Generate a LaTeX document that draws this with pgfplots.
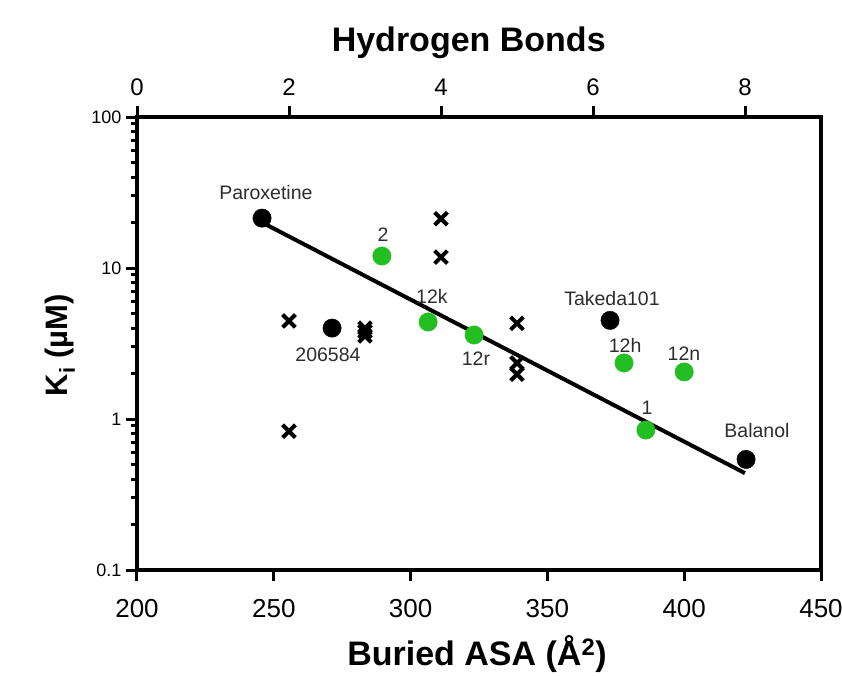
\documentclass[border=0pt]{standalone}
\usepackage{pgfplots}
\pgfplotsset{compat=1.18}
\usepackage{fontspec}
\setmainfont{Liberation Sans}
\definecolor{ptgreen}{RGB}{34,190,34}
\definecolor{lblgray}{RGB}{45,45,45}
\tikzset{ptlbl/.style={text=lblgray, font=\fontsize{19.5}{22}\selectfont, anchor=center}}
\begin{document}
\begin{tikzpicture}
\path[use as bounding box] (-137pt,-105pt) rectangle (705pt,570pt);
\begin{axis}[
  scale only axis, width=684pt, height=453pt,
  at={(0pt,0pt)}, anchor=south west,
  ymode=log, ymin=0.1, ymax=100,
  xmin=200, xmax=450,
  /pgf/number format/assume math mode=true,
  axis line style={line width=3.5pt},
  tick style={black, line width=3pt},
  tick align=outside,
  major tick length=11pt, minor tick length=6pt,
  xtick={200,250,300,350,400,450},
  xtick pos=bottom, ytick pos=left,
  ytick={0.1,1,10,100}, yticklabels={0.1,1,10,100},
  xticklabel style={font=\fontsize{26}{30}\selectfont, yshift=-15pt},
  yticklabel style={font=\fontsize{18}{21}\selectfont, xshift=-1pt},
  xlabel={\textbf{Buried ASA (Å\textsuperscript{2})}},
  xlabel style={font=\fontsize{34}{38}\selectfont, at={(axis description cs:0.497,-0.2097)}, anchor=base},
  ylabel={\textbf{K\textsubscript{i} (µM)}},
  ylabel style={font=\fontsize{31}{34}\selectfont, at={(axis description cs:-0.1125,0.496)}, anchor=center},
]
\addplot[black, line width=4pt] coordinates {(246,19.9) (422.2,0.438)};
\addplot[only marks, mark=*, mark size=9.2pt, mark options={fill=black, draw=black}]
 coordinates {(245.7,21.4) (271.3,4.0) (372.9,4.5) (422.6,0.54)};
\addplot[only marks, mark=*, mark size=9.2pt, mark options={fill=ptgreen, draw=ptgreen}]
 coordinates {(289.5,12.0) (306.4,4.39) (323.2,3.6) (378,2.35) (400,2.05) (386,0.845)};
\node[ptlbl] at (axis cs:247.1,31.8) {Paroxetine};
\node[ptlbl] at (axis cs:269.8,2.66) {206584};
\node[ptlbl] at (axis cs:289.9,16.6) {2};
\node[ptlbl] at (axis cs:307.8,6.53) {12k};
\node[ptlbl] at (axis cs:323.9,2.50) {12r};
\node[ptlbl] at (axis cs:373.6,6.32) {Takeda101};
\node[ptlbl] at (axis cs:378.4,3.09) {12h};
\node[ptlbl] at (axis cs:399.9,2.69) {12n};
\node[ptlbl] at (axis cs:386.4,1.18) {1};
\node[ptlbl] at (axis cs:426.6,0.845) {Balanol};
\end{axis}
\begin{axis}[
  scale only axis, width=684pt, height=453pt,
  at={(0pt,0pt)}, anchor=south west,
  ymode=log, ymin=0.1, ymax=100,
  xmin=0, xmax=9,
  /pgf/number format/assume math mode=true,
  axis line style={line width=3.5pt},
  tick style={black, line width=3pt},
  tick align=outside,
  major tick length=11pt,
  axis x line*=top, axis y line=none,
  xtick={0,2,4,6,8},
  xticklabel style={font=\fontsize{24}{28}\selectfont, yshift=7pt},
  xlabel={\textbf{Hydrogen Bonds}},
  xlabel style={font=\fontsize{34}{38}\selectfont, at={(axis description cs:0.485,1.1435)}, anchor=base},
]
\addplot[only marks, mark=x, mark size=9pt, mark options={line width=4pt, black}]
 coordinates {(2,4.46) (2,0.83) (3,4.0) (3,3.8) (3,3.55) (4,21.2) (4,11.8) (5,4.3) (5,2.35) (5,1.98)};
\end{axis}
\end{tikzpicture}
\end{document}
